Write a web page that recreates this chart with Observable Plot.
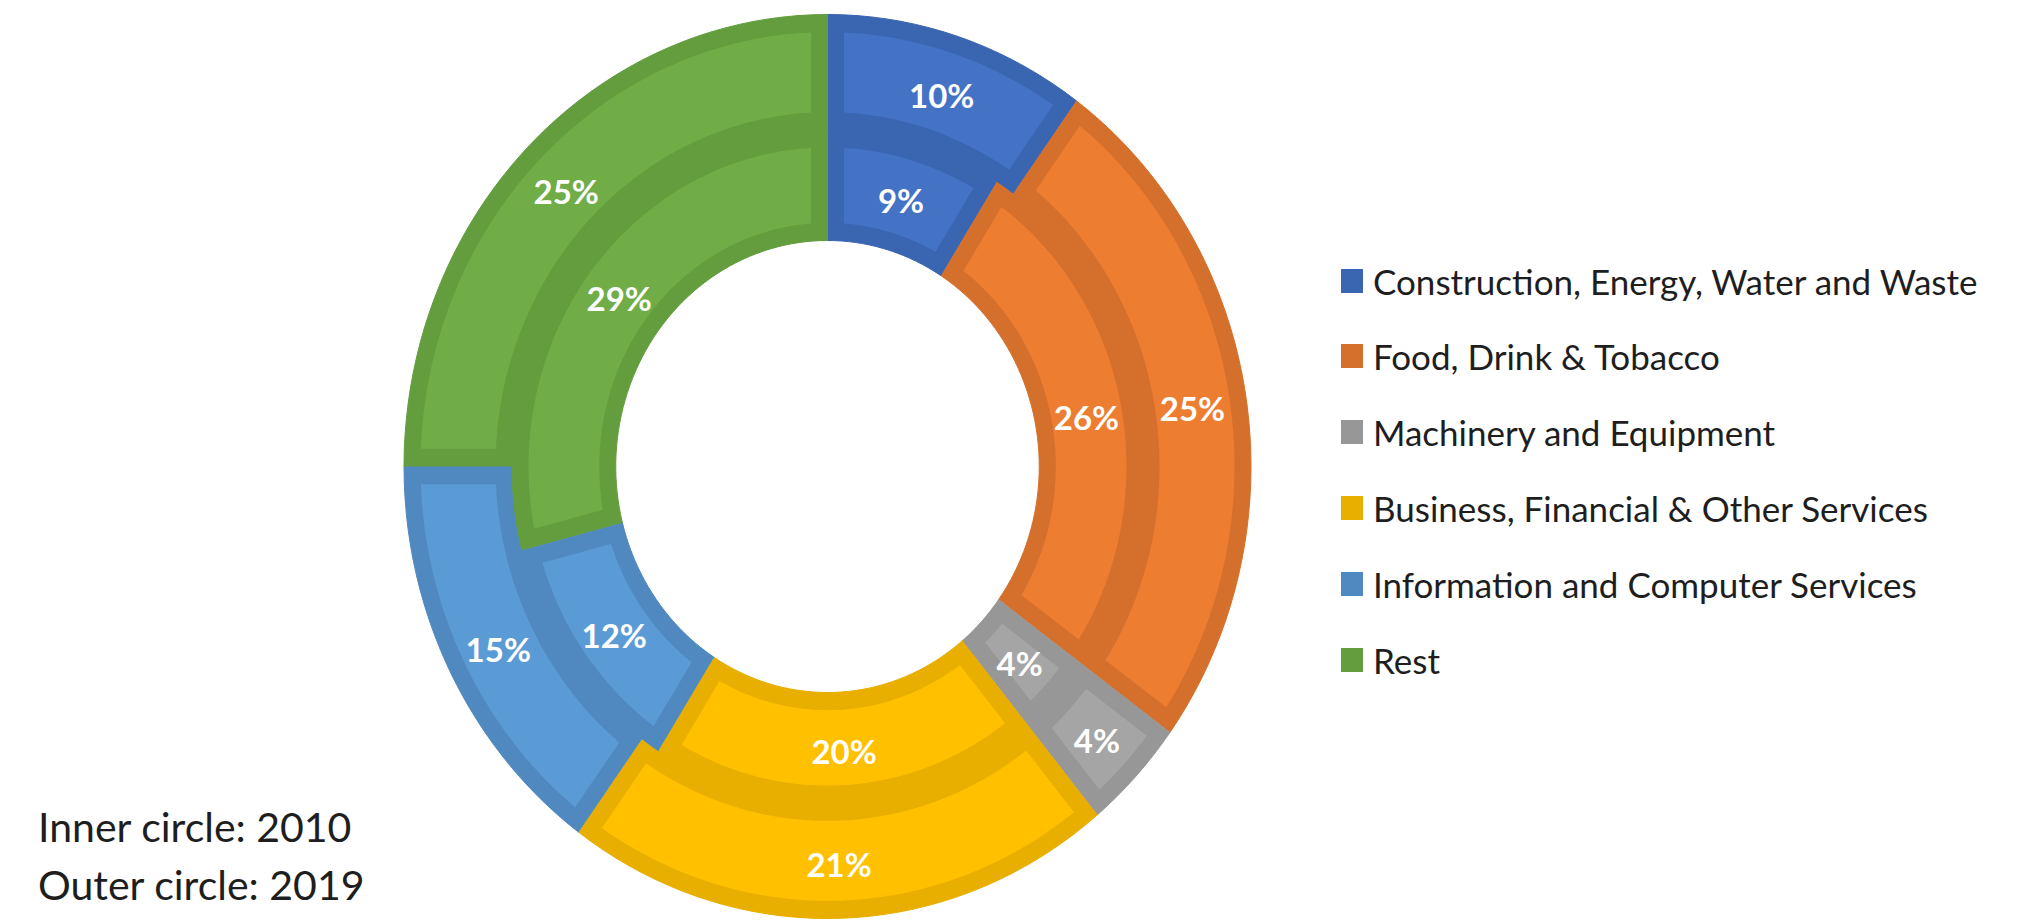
<!DOCTYPE html>
<html>
<head>
<meta charset="utf-8">
<script src="https://cdn.jsdelivr.net/npm/d3@7"></script>
<script src="https://cdn.jsdelivr.net/npm/@observablehq/plot@0.6"></script>
<style>
  html, body { margin: 0; padding: 0; background: #fff; }
  #wrap { position: relative; width: 2024px; height: 922px; overflow: hidden; background: #fff; }
  #chart { position: absolute; left: 0; top: 0; }
  .legend-row { position: absolute; left: 1341px; height: 50px; display: flex; align-items: center;
    font-family: Lato, "Open Sans", sans-serif; font-size: 35px; color: #1e1e1e; white-space: nowrap; }
  .swatch { width: 22px; height: 24px; margin-right: 10px; flex: none; }
  #caption { position: absolute; left: 38px; top: 798px; font-family: Lato, "Open Sans", sans-serif;
    font-size: 41px; line-height: 58px; color: #1e1e1e; }
</style>
</head>
<body>
<div id="wrap">
  <div id="chart"></div>
  <div id="legend"></div>
  <div id="caption"></div>
</div>
<script>
// ---- data ----
const categories = [
  "Construction, Energy, Water and Waste",
  "Food, Drink & Tobacco",
  "Machinery and Equipment",
  "Business, Financial & Other Services",
  "Information and Computer Services",
  "Rest"
];
const inner2010 = [9, 26, 4, 20, 12, 29];
const outer2019 = [10, 25, 4, 21, 15, 25];
const fillColors = ["#4472C4", "#ED7D31", "#A5A5A5", "#FFC000", "#5B9BD5", "#70AD47"];
const borderColors = ["#3A65B1", "#D5702C", "#979797", "#E8AE00", "#5089C0", "#639D3E"];
const captionLines = ["Inner circle: 2010", "Outer circle: 2019"];

// ---- geometry (data space: unit radius) ----
const R_HOLE = 0.50, R_MID = 0.745, R_OUT = 1.0, INSET = 0.039, STEPS = 90;

function ringPolys(values, r0, r1, ring) {
  const total = d3.sum(values);
  const outerPts = [], innerPts = [], labels = [];
  let cum = 0;
  values.forEach((v, i) => {
    const a0 = cum / total * 2 * Math.PI;
    cum += v;
    const a1 = cum / total * 2 * Math.PI;
    const id = ring + "-" + i;
    const addShape = (arr, ra, rb, inset, color, key) => {
      const n = Math.max(4, Math.ceil(STEPS * (a1 - a0) / Math.PI));
      const offA = r => inset ? Math.asin(Math.min(1, inset / r)) : 0;
      for (let k = 0; k <= n; k++) {
        const s = a0 + offA(rb), e = a1 - offA(rb);
        const a = s + (e - s) * k / n;
        arr.push({id: key, x: rb * Math.sin(a), y: rb * Math.cos(a), color});
      }
      for (let k = n; k >= 0; k--) {
        const s = a0 + offA(ra), e = a1 - offA(ra);
        const a = s + (e - s) * k / n;
        arr.push({id: key, x: ra * Math.sin(a), y: ra * Math.cos(a), color});
      }
    };
    addShape(outerPts, r0, r1, 0, borderColors[i], id + "-b");
    addShape(innerPts, r0 + INSET, r1 - INSET, INSET, fillColors[i], id + "-f");
    const am = (a0 + a1) / 2, rm = (r0 + r1) / 2;
    labels.push({x: rm * Math.sin(am), y: rm * Math.cos(am), text: v + "%"});
  });
  return {outerPts, innerPts, labels};
}

const inner = ringPolys(inner2010, R_HOLE, R_MID, "in");
const outer = ringPolys(outer2019, R_MID, R_OUT, "out");

const plot = Plot.plot({
  width: 2024,
  height: 922,
  margin: 0,
  x: {domain: [-1, 1], range: [403.5, 1250.5], axis: null},
  y: {domain: [-1, 1], range: [918, 14], axis: null},
  style: {background: "transparent", overflow: "visible"},
  marks: [
    Plot.line(outer.outerPts, {x: "x", y: "y", z: "id", fill: "color", stroke: "color", strokeWidth: 1, curve: "linear"}),
    Plot.line(inner.outerPts, {x: "x", y: "y", z: "id", fill: "color", stroke: "color", strokeWidth: 1, curve: "linear"}),
    Plot.line(outer.innerPts, {x: "x", y: "y", z: "id", fill: "color", stroke: "none", curve: "linear"}),
    Plot.line(inner.innerPts, {x: "x", y: "y", z: "id", fill: "color", stroke: "none", curve: "linear"}),
    Plot.text(outer.labels.concat(inner.labels), {x: "x", y: "y", text: "text", fill: "white",
      fontSize: 33, fontWeight: "bold", fontFamily: "Lato, 'Open Sans', sans-serif", dy: 6})
  ]
});
document.getElementById("chart").appendChild(plot);

// ---- legend ----
const legend = document.getElementById("legend");
categories.forEach((c, i) => {
  const row = document.createElement("div");
  row.className = "legend-row";
  row.style.top = (280.5 + 75.9 * i - 25) + "px";
  const sw = document.createElement("div");
  sw.className = "swatch";
  sw.style.background = borderColors[i];
  const tx = document.createElement("span");
  tx.textContent = c;
  row.appendChild(sw);
  row.appendChild(tx);
  legend.appendChild(row);
});

// ---- caption ----
const cap = document.getElementById("caption");
captionLines.forEach(t => {
  const d = document.createElement("div");
  d.textContent = t;
  cap.appendChild(d);
});
</script>
</body>
</html>
